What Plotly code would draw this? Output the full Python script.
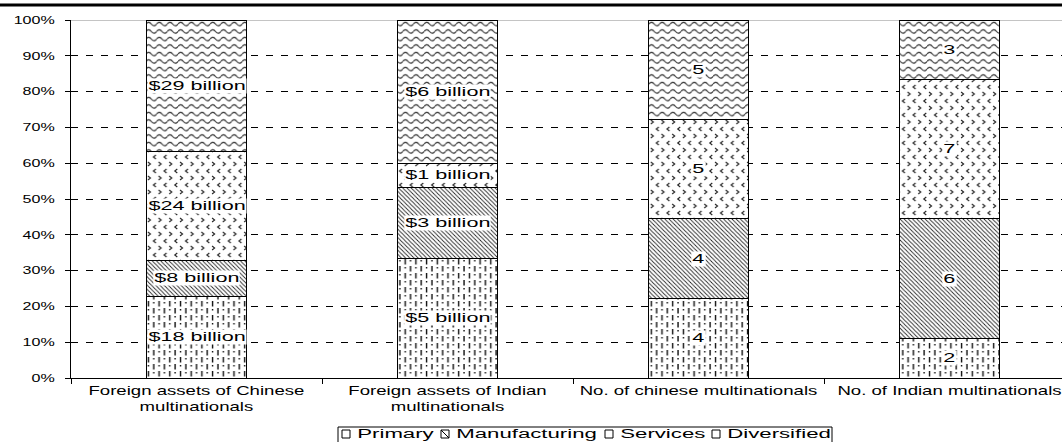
import plotly.graph_objects as go

# ---- data -------------------------------------------------------------
categories = [
    "Foreign assets of Chinese<br>multinationals",
    "Foreign assets of Indian<br>multinationals",
    "No. of chinese multinationals",
    "No. of Indian multinationals",
]
series_names = ["Primary", "Manufacturing", "Services", "Diversified"]
primary = [18, 5, 4, 2]
manufacturing = [8, 3, 4, 6]
services = [24, 1, 5, 7]
diversified = [29, 6, 5, 3]
value_formats = ["${} billion", "${} billion", "{}", "{}"]
y_ticks = [0, 10, 20, 30, 40, 50, 60, 70, 80, 90, 100]
y_tick_labels = ["0%", "10%", "20%", "30%", "40%", "50%",
                 "60%", "70%", "80%", "90%", "100%"]

series_values = [primary, manufacturing, services, diversified]

# ---- geometry / style ---------------------------------------------------
W, H = 1062, 442
ML, MR, MT, MB = 71, 0, 20, 64
PW, PH = W - ML - MR, H - MT - MB
CAT_PX = 251  # width of one category slot in pixels
FONT = "Liberation Sans, Arial, sans-serif"


def px(x):
    return (x - ML) / PW


def py(y):
    return (H - MB - y) / PH


native_patterns = ["|", "\\", ".", "x"]

fig = go.Figure()
for name, vals, shp in zip(series_names, series_values, native_patterns):
    fig.add_trace(go.Bar(
        name=name, x=categories, y=vals,
        marker=dict(color="white", line=dict(color="black", width=1),
                    pattern=dict(shape=shp, fgcolor="black", bgcolor="white",
                                 size=6, solidity=0.2)),
        showlegend=False, hoverinfo="skip",
    ))

# value labels in the middle of each stacked segment
annotations = []
for i, cat in enumerate(categories):
    total = sum(v[i] for v in series_values)
    base = 0.0
    for vals in series_values:
        pct = vals[i] / total * 100
        annotations.append(dict(
            x=cat, y=base + pct / 2, xref="x", yref="y",
            text=value_formats[i].format(vals[i]), showarrow=False,
            bgcolor="white", borderpad=0,
            font=dict(family=FONT, size=12, color="black"),
        ))
        base += pct
n_bar_labels = len(annotations)

# hand-built legend strip at the bottom
LEG_Y = 434
legend_symbol_x = [342, 441, 605, 712]
legend_text_x = [354, 453, 617, 724]
shapes = [
    dict(type="rect", xref="paper", yref="paper",
         x0=px(338), x1=px(832), y0=py(427), y1=py(470),
         line=dict(color="black", width=1), fillcolor="white", layer="above"),
    # heavy rule along the top edge
    dict(type="line", xref="paper", yref="paper",
         x0=-0.1, x1=1.1, y0=py(5), y1=py(5),
         line=dict(color="black", width=3)),
    # solid top border of the plot area
    dict(type="line", xref="paper", yref="y", x0=0, x1=1, y0=100, y1=100,
         line=dict(color="#8a8a8a", width=1), layer="between"),
]
for name, sx, tx in zip(series_names, legend_symbol_x, legend_text_x):
    shapes.append(dict(type="rect", xref="paper", yref="paper",
                       x0=px(sx), x1=px(sx + 8), y0=py(LEG_Y - 4), y1=py(LEG_Y + 4),
                       line=dict(color="black", width=1), fillcolor="white",
                       layer="above"))
    if name == "Manufacturing":
        shapes.append(dict(type="line", xref="paper", yref="paper",
                           x0=px(sx), x1=px(sx + 8), y0=py(LEG_Y - 4), y1=py(LEG_Y + 4),
                           line=dict(color="black", width=1), layer="above"))
    annotations.append(dict(
        x=px(tx), y=py(LEG_Y), xref="paper", yref="paper",
        xanchor="left", yanchor="middle", align="left",
        text=name, showarrow=False,
        font=dict(family=FONT, size=12, color="black"),
    ))

fig.update_layout(
    width=W, height=H,
    margin=dict(l=ML, r=MR, t=MT, b=MB),
    barmode="stack", barnorm="percent", bargap=0.6,
    plot_bgcolor="white", paper_bgcolor="white",
    font=dict(family=FONT, size=12, color="black"),
    showlegend=False,
    xaxis=dict(range=[-0.5, -0.5 + PW / CAT_PX], showline=True,
               linecolor="black", linewidth=1, ticks="outside", ticklen=5,
               tickcolor="black", tickson="boundaries", showgrid=False,
               ticklabelstandoff=2,
               tickfont=dict(family=FONT, size=12, color="black")),
    yaxis=dict(range=[0, 100], tickmode="array", tickvals=y_ticks,
               ticktext=y_tick_labels,
               showline=True, linecolor="black", linewidth=1,
               ticks="outside", ticklen=5, tickcolor="black",
               showgrid=True, gridcolor="black", griddash="7px,8px",
               gridwidth=1, zeroline=False, ticklabelstandoff=8,
               tickfont=dict(family=FONT, size=11, color="black")),
    annotations=annotations,
    shapes=shapes,
)

# Post-render tweaks: widen the lettering horizontally and give each
# series its own hatch tile (dashes, diagonals, chevrons, waves).
POST_JS = """
var gd = document.getElementById('{plot_id}');
function stretch(el, s, anchor) {
  var bb = el.getBBox();
  var ax = anchor === 'start' ? bb.x : (anchor === 'end' ? bb.x + bb.width : bb.x + bb.width / 2);
  var tr = el.getAttribute('transform') || '';
  el.setAttribute('transform', tr + ' translate(' + ax + ',0) scale(' + s + ',1) translate(' + (-ax) + ',0)');
}
try {
  gd.querySelectorAll('g.ytick text').forEach(function (e) { stretch(e, __SY__, 'end'); });
  gd.querySelectorAll('g.xtick text').forEach(function (e) { stretch(e, __SX__, 'middle'); });
  gd.querySelectorAll('g.annotation').forEach(function (a) {
    var idx = +a.getAttribute('data-index');
    var inner = a.querySelector('.annotation-text-g > g');
    if (!inner) return;
    if (idx < __NBAR__) stretch(inner, __SBAR__, 'middle');
    else stretch(inner, __SLEG__, 'start');
  });
} catch (err) {}
try {
  var tiles = [
    {w: 10.7, h: 14, body: '<path d="M2.5,1V6.5M2.5,9V10.5M7.85,8V13.5M7.85,2V3.5" stroke="#111" stroke-width="1.4" fill="none"/>'},
    {w: 4.2, h: 4.2, body: '<path d="M-1,-1L5.2,5.2M-1,3.2L1,5.2M3.2,-1L5.2,1" stroke="#222" stroke-width="0.85" fill="none"/>'},
    {w: 10.7, h: 14, body: '<path d="M2,2L4.5,4L2,6M10,9L7.5,11L10,13" stroke="#222" stroke-width="1.1" fill="none"/>'},
    {w: 10.7, h: 7.5, body: '<path d="M0,4Q2.675,0.5 5.35,4T10.7,4" stroke="#222" stroke-width="1.1" fill="none"/>'}
  ];
  gd.querySelectorAll('g.trace.bars').forEach(function (tr, i) {
    var t = tiles[i];
    if (!t) return;
    var seen = {};
    tr.querySelectorAll('path').forEach(function (p) {
      var f = p.style.fill || p.getAttribute('fill') || '';
      var m = f.match(/#([^"')]+)/);
      if (!m || seen[m[1]]) return;
      seen[m[1]] = true;
      var pat = document.getElementById(m[1]);
      if (!pat) return;
      pat.setAttribute('width', t.w);
      pat.setAttribute('height', t.h);
      pat.removeAttribute('patternTransform');
      pat.innerHTML = '<rect x="0" y="0" width="' + t.w + '" height="' + t.h + '" fill="#fff"/>' + t.body;
    });
  });
} catch (err) {}
"""
POST_JS = (POST_JS.replace("__SY__", "1.46").replace("__SX__", "1.55")
           .replace("__SBAR__", "1.8").replace("__SLEG__", "1.85")
           .replace("__NBAR__", str(n_bar_labels)))

fig.write_html("out.html", post_script=POST_JS)
